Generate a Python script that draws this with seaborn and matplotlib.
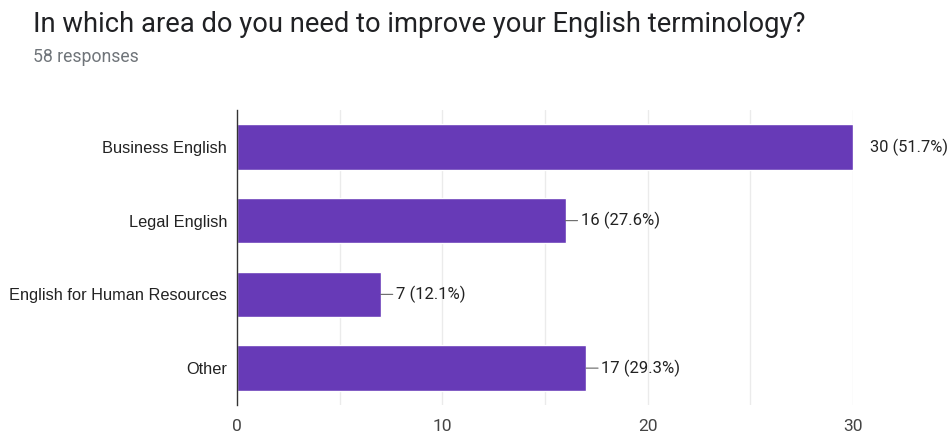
import matplotlib
matplotlib.use("Agg")
import matplotlib.pyplot as plt
import seaborn as sns
import pandas as pd

categories = ["Business English", "Legal English", "English for Human Resources", "Other"]
counts = [30, 16, 7, 17]
percents = [51.7, 27.6, 12.1, 29.3]
x_ticks = [0, 10, 20, 30]
grid_ticks = [5, 10, 15, 20, 25, 30]
total_responses = 58

df = pd.DataFrame({"area": categories, "count": counts})

sns.set_theme(style="white")
plt.rcParams["font.family"] = ["Liberation Sans", "DejaVu Sans"]

fig = plt.figure(figsize=(9.51, 4.33), dpi=100)
ax = fig.add_axes([237 / 951, 1 - 405 / 433, (853 - 237) / 951, (405 - 110) / 433])

sns.barplot(data=df, x="count", y="area", color="#673AB7", saturation=1,
            width=0.62, ax=ax, order=categories)

ax.set_xlim(0, 30)
ax.set_ylim(3.5, -0.5)
for g in grid_ticks:
    ax.axvline(g, color="#ebebeb", lw=1, zorder=0)

ax.set_xticks(x_ticks)
ax.set_xticklabels([str(t) for t in x_ticks], fontsize=12.5, color="#444444",
                   family="Roboto")
ax.tick_params(axis="x", length=0, pad=10)
ax.tick_params(axis="y", length=0, pad=7, labelsize=11.8, labelcolor="#222222")
ax.set_xlabel("")
ax.set_ylabel("")
for s in ["top", "right", "bottom"]:
    ax.spines[s].set_visible(False)
ax.spines["left"].set_color("#333333")
ax.spines["left"].set_linewidth(1)

# value labels with short leader lines
for i, (c, p) in enumerate(zip(counts, percents)):
    label = f"{c} ({p}%)"
    if c >= 30:
        ax.annotate(label, xy=(c, i), xytext=(12.5, 0), textcoords="offset points",
                    va="center", ha="left", fontsize=11.8, family="Roboto",
                    color="#222222", annotation_clip=False)
    else:
        ax.annotate(label, xy=(c, i), xytext=(11, 0), textcoords="offset points",
                    va="center", ha="left", fontsize=12, family="Roboto",
                    color="#222222", annotation_clip=False,
                    arrowprops=dict(arrowstyle="-", color="#666666", lw=0.8,
                                    shrinkA=0, shrinkB=0))

fig.text(33 / 951, 1 - 25 / 433, "In which area do you need to improve your English terminology?",
         fontsize=19.7, family="Roboto", color="#202124", va="center", ha="left")
fig.text(33 / 951, 1 - 57 / 433, f"{total_responses} responses",
         fontsize=12.7, family="Roboto", color="#70757a", va="center", ha="left")

fig.savefig("out.png", dpi=100)
